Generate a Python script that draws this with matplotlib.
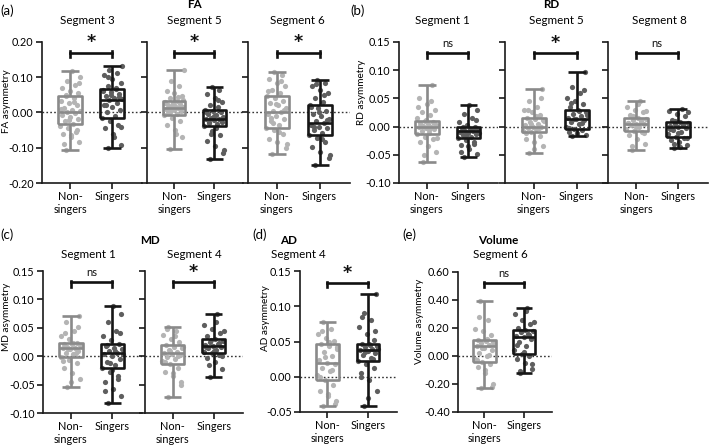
import numpy as np
import matplotlib.pyplot as plt

plt.rcParams['font.family'] = ['Lato', 'DejaVu Sans']
plt.rcParams['axes.unicode_minus'] = False

W, H = 709, 448
groups = ['Non-\nsingers', 'Singers']

# box stats are [min, q1, median, q3, max]
# (a) FA asymmetry
fa_seg3_ns = [-0.107, -0.085, -0.07, -0.062, -0.055, -0.045, -0.038, -0.032, -0.025, -0.018, -0.012, -0.006,
              -0.002, 0.0, 0.003, 0.008, 0.014, 0.02, 0.026, 0.033, 0.04, 0.047, 0.055, 0.062, 0.07, 0.078,
              0.09, 0.1, 0.117, -0.09, -0.05, -0.02, 0.01, 0.03, 0.05, 0.085, -0.065]
fa_seg3_s = [-0.101, -0.092, -0.06, -0.045, -0.035, -0.025, -0.016, -0.01, 0.0, 0.008, 0.015, 0.022, 0.028,
             0.035, 0.038, 0.042, 0.048, 0.053, 0.058, 0.063, 0.066, 0.075, 0.085, 0.095, 0.105, 0.112, 0.12,
             0.132, -0.07, 0.02, 0.045, 0.05, 0.06, 0.07, 0.1, -0.04]
fa_seg5_ns = [-0.104, -0.07, -0.05, -0.035, -0.025, -0.015, -0.008, -0.004, 0.0, 0.004, 0.007, 0.01, 0.013,
              0.014, 0.016, 0.018, 0.021, 0.024, 0.028, 0.031, 0.033, 0.04, 0.048, 0.055, 0.062, 0.075, 0.09,
              0.12, -0.06, -0.002, 0.012, 0.02, 0.026, 0.045, 0.002, 0.035]
fa_seg5_s = [-0.133, -0.115, -0.095, -0.08, -0.065, -0.052, -0.039, -0.034, -0.03, -0.026, -0.022, -0.019,
             -0.018, -0.015, -0.012, -0.008, -0.004, 0.0, 0.004, 0.008, 0.015, 0.022, 0.03, 0.04, 0.052, 0.065,
             0.072, -0.105, -0.045, -0.028, -0.02, -0.01, 0.002, 0.035, -0.06]
fa_seg6_ns = [-0.117, -0.1, -0.085, -0.075, -0.062, -0.05, -0.043, -0.035, -0.025, -0.018, -0.01, -0.004, 0.0,
              0.005, 0.012, 0.02, 0.028, 0.034, 0.04, 0.046, 0.055, 0.065, 0.075, 0.085, 0.095, 0.105, 0.115,
              -0.09, -0.055, -0.015, 0.008, 0.025, 0.06, 0.09, -0.03]
fa_seg6_s = [-0.15, -0.128, -0.112, -0.098, -0.085, -0.072, -0.063, -0.058, -0.05, -0.045, -0.04, -0.035, -0.03,
             -0.025, -0.018, -0.01, -0.004, 0.004, 0.012, 0.02, 0.03, 0.042, 0.055, 0.065, 0.075, 0.085, 0.093,
             -0.12, -0.075, -0.042, -0.02, 0.0, 0.015, 0.05, 0.08]
fa_seg3_box = [[-0.107, -0.032, 0.0, 0.047, 0.117], [-0.101, -0.016, 0.035, 0.066, 0.132]]
fa_seg5_box = [[-0.104, -0.008, 0.014, 0.033, 0.120], [-0.133, -0.039, -0.018, 0.008, 0.072]]
fa_seg6_box = [[-0.117, -0.043, 0.0, 0.046, 0.115], [-0.150, -0.063, -0.030, 0.020, 0.093]]
fa_sig = ['*', '*', '*']

# (b) RD asymmetry
rd_seg1_ns = [-0.062, -0.045, -0.035, -0.028, -0.022, -0.018, -0.014, -0.011, -0.008, -0.005, -0.003, -0.001,
              0.0, 0.001, 0.003, 0.005, 0.007, 0.009, 0.01, 0.015, 0.02, 0.025, 0.03, 0.04, 0.05, 0.073,
              -0.05, -0.02, -0.006, 0.002, 0.006, 0.012, 0.035, 0.045]
rd_seg1_s = [-0.054, -0.048, -0.04, -0.033, -0.028, -0.024, -0.02, -0.018, -0.015, -0.013, -0.011, -0.009,
             -0.008, -0.007, -0.005, -0.004, -0.002, -0.001, 0.003, 0.008, 0.015, 0.022, 0.03, 0.039,
             -0.045, -0.03, -0.016, -0.012, -0.006, 0.0, 0.012, -0.035]
rd_seg5_ns = [-0.046, -0.035, -0.028, -0.022, -0.016, -0.01, -0.007, -0.005, -0.003, -0.001, 0.0, 0.002, 0.005,
              0.008, 0.011, 0.014, 0.016, 0.02, 0.025, 0.03, 0.035, 0.045, 0.066,
              -0.04, -0.012, -0.002, 0.004, 0.01, 0.018, 0.03, 0.05]
rd_seg5_s = [-0.017, -0.015, -0.012, -0.009, -0.006, -0.004, 0.0, 0.004, 0.008, 0.011, 0.014, 0.016, 0.019,
             0.022, 0.025, 0.029, 0.035, 0.04, 0.045, 0.05, 0.06, 0.07, 0.096,
             -0.014, -0.002, 0.006, 0.013, 0.02, 0.027, 0.042, 0.065]
rd_seg8_ns = [-0.042, -0.03, -0.022, -0.015, -0.01, -0.007, -0.004, -0.001, 0.002, 0.004, 0.005, 0.007, 0.009,
              0.011, 0.013, 0.016, 0.02, 0.025, 0.03, 0.035, 0.045,
              -0.035, -0.012, 0.0, 0.006, 0.012, 0.018, 0.028, 0.04]
rd_seg8_s = [-0.038, -0.033, -0.028, -0.024, -0.021, -0.018, -0.014, -0.01, -0.006, -0.003, -0.001, 0.001,
             0.003, 0.005, 0.007, 0.008, 0.012, 0.018, 0.022, 0.027, 0.031,
             -0.03, -0.02, -0.012, -0.004, 0.004, 0.01, 0.025, -0.036]
rd_seg1_box = [[-0.062, -0.014, 0.0, 0.010, 0.073], [-0.054, -0.020, -0.008, -0.001, 0.039]]
rd_seg5_box = [[-0.046, -0.010, 0.0, 0.016, 0.066], [-0.017, -0.004, 0.014, 0.029, 0.096]]
rd_seg8_box = [[-0.042, -0.007, 0.005, 0.016, 0.045], [-0.038, -0.018, -0.001, 0.008, 0.031]]
rd_sig = ['ns', '*', 'ns']

# (c) MD asymmetry
md_seg1_ns = [-0.055, -0.04, -0.03, -0.02, -0.012, -0.006, -0.001, 0.003, 0.006, 0.009, 0.012, 0.014, 0.015,
              0.017, 0.019, 0.021, 0.022, 0.024, 0.03, 0.036, 0.045, 0.06, 0.071,
              -0.045, -0.008, 0.005, 0.013, 0.018, 0.023, 0.04, 0.052]
md_seg1_s = [-0.083, -0.07, -0.058, -0.045, -0.035, -0.027, -0.02, -0.015, -0.01, -0.005, 0.0, 0.003, 0.006,
             0.009, 0.012, 0.015, 0.018, 0.021, 0.028, 0.035, 0.045, 0.06, 0.075, 0.088,
             -0.062, -0.04, -0.012, 0.004, 0.01, 0.02, 0.04, -0.025]
md_seg4_ns = [-0.071, -0.045, -0.035, -0.027, -0.02, -0.013, -0.009, -0.005, -0.001, 0.002, 0.004, 0.006,
              0.008, 0.011, 0.014, 0.017, 0.019, 0.025, 0.03, 0.038, 0.045, 0.052,
              -0.05, -0.03, -0.01, 0.0, 0.01, 0.016, 0.035, 0.048]
md_seg4_s = [-0.036, -0.022, -0.01, -0.003, 0.002, 0.005, 0.008, 0.011, 0.014, 0.016, 0.018, 0.02, 0.022,
             0.025, 0.027, 0.03, 0.035, 0.04, 0.048, 0.055, 0.074,
             -0.015, 0.0, 0.01, 0.017, 0.024, 0.029, 0.045, 0.06]
md_seg1_box = [[-0.055, -0.001, 0.015, 0.024, 0.071], [-0.083, -0.020, 0.006, 0.021, 0.088]]
md_seg4_box = [[-0.071, -0.013, 0.006, 0.019, 0.052], [-0.036, 0.005, 0.018, 0.030, 0.074]]
md_sig = ['ns', '*']

# (d) AD asymmetry
ad_seg4_ns = [-0.041, -0.035, -0.028, -0.02, -0.012, -0.005, 0.002, 0.008, 0.013, 0.018, 0.02, 0.024, 0.03,
              0.035, 0.04, 0.044, 0.047, 0.051, 0.055, 0.06, 0.068, 0.077,
              -0.038, -0.025, 0.0, 0.01, 0.028, 0.042, 0.05, 0.065]
ad_seg4_s = [-0.042, -0.02, -0.005, 0.005, 0.012, 0.018, 0.023, 0.027, 0.031, 0.034, 0.036, 0.038, 0.04,
             0.042, 0.044, 0.046, 0.047, 0.052, 0.06, 0.07, 0.08, 0.09, 0.117,
             -0.03, 0.0, 0.025, 0.035, 0.039, 0.045, 0.085, 0.065]
ad_seg4_box = [[-0.041, -0.005, 0.020, 0.047, 0.077], [-0.042, 0.023, 0.038, 0.047, 0.117]]

# (e) Volume asymmetry
vol_seg6_ns = [-0.23, -0.2, -0.12, -0.08, -0.06, -0.04, -0.02, 0.0, 0.02, 0.04, 0.055, 0.07, 0.08, 0.09, 0.1,
               0.108, 0.114, 0.15, 0.18, 0.19, 0.26, 0.394,
               -0.22, -0.1, -0.03, 0.01, 0.06, 0.085, 0.12, 0.28]
vol_seg6_s = [-0.118, -0.09, -0.05, -0.02, 0.0, 0.015, 0.04, 0.07, 0.1, 0.12, 0.133, 0.14, 0.155, 0.17, 0.18,
              0.185, 0.2, 0.23, 0.26, 0.3, 0.346,
              -0.11, -0.06, 0.03, 0.08, 0.15, 0.175, 0.24, 0.32]
vol_seg6_box = [[-0.23, -0.04, 0.07, 0.114, 0.394], [-0.118, 0.015, 0.133, 0.185, 0.346]]

NS_PT, NS_BOX = '#b4b4b4', '#8a8a8a'
S_PT, S_BOX = '#5e5e5e', '#161616'


def px_axes(fig, left, top, right, bottom):
    return fig.add_axes([left / W, 1 - bottom / H, (right - left) / W, (bottom - top) / H])


def ftext(fig, x, y, s, **kw):
    fig.text(x / W, 1 - y / H, s, **kw)


def draw(ax, pts, boxes, ylim, yticks, bracket_y, sig, show_labels):
    ax.set_xlim(-0.67, 1.71)
    ax.set_ylim(*ylim)
    ax.axhline(0, color='#333333', ls=(0, (1.2, 1.6)), lw=1, zorder=1)
    for i, (vals, box, pc, bc) in enumerate(zip(pts, boxes, [NS_PT, S_PT], [NS_BOX, S_BOX])):
        vals = np.asarray(vals)
        jit = ((np.arange(len(vals)) * 0.618034 + 0.3) % 1 - 0.5) * 0.5
        ax.scatter(i + jit, vals, s=14, color=pc, lw=0, zorder=2, clip_on=False)
        st = dict(whislo=box[0], q1=box[1], med=box[2], q3=box[3], whishi=box[4], fliers=[])
        lp = dict(color=bc, lw=1.9, solid_capstyle='butt')
        ax.bxp([st], positions=[i], widths=0.56, capwidths=0.42, showfliers=False,
               boxprops=lp, whiskerprops=lp, capprops=lp, medianprops=lp,
               manage_ticks=False, zorder=3)
    ax.set_xticks([0, 1])
    ax.set_xticklabels(groups)
    ax.set_yticks(yticks)
    if show_labels:
        ax.set_yticklabels(['%.2f' % t for t in yticks])
    else:
        ax.set_yticklabels([])
    ax.tick_params(labelsize=7.8, length=4, width=1.2, color='#1a1a1a', pad=2)
    for side in ['top', 'right']:
        ax.spines[side].set_visible(False)
    for side in ['left', 'bottom']:
        ax.spines[side].set_linewidth(1.2)
        ax.spines[side].set_color('#1a1a1a')
    # significance bracket
    span = ylim[1] - ylim[0]
    d = span * 0.03
    ax.plot([0, 1], [bracket_y, bracket_y], color='#111111', lw=1.9, clip_on=False)
    for x in [0, 1]:
        ax.plot([x, x], [bracket_y - d, bracket_y + d * 0.35], color='#111111', lw=1.9, clip_on=False)
    if sig == '*':
        ax.text(0.5, bracket_y + span * 0.008, '*', ha='center', va='bottom', fontsize=12.5,
                fontweight='bold', family='DejaVu Sans', color='#111111')
    else:
        ax.text(0.5, bracket_y + span * 0.03, 'ns', ha='center', va='bottom', fontsize=8,
                color='#111111')


fig = plt.figure(figsize=(W / 100, H / 100), dpi=100)

fa_ylim, fa_ticks = (-0.20, 0.20), [-0.20, -0.10, 0.0, 0.10, 0.20]
rd_ylim, rd_ticks = (-0.10, 0.15), [-0.10, -0.05, 0.0, 0.05, 0.10, 0.15]
ad_ylim, ad_ticks = (-0.05, 0.15), [-0.05, 0.0, 0.05, 0.10, 0.15]
vol_ylim, vol_ticks = (-0.40, 0.60), [-0.40, -0.20, 0.0, 0.20, 0.40, 0.60]

subplots = [
    ((42, 42, 142, 183), [fa_seg3_ns, fa_seg3_s], fa_seg3_box, fa_ylim, fa_ticks, 0.17, fa_sig[0], True, 'Segment 3', 87),
    ((147, 42, 243, 183), [fa_seg5_ns, fa_seg5_s], fa_seg5_box, fa_ylim, fa_ticks, 0.17, fa_sig[1], False, 'Segment 5', 194),
    ((248, 42, 350, 183), [fa_seg6_ns, fa_seg6_s], fa_seg6_box, fa_ylim, fa_ticks, 0.17, fa_sig[2], False, 'Segment 6', 297),
    ((399, 42, 498, 183), [rd_seg1_ns, rd_seg1_s], rd_seg1_box, rd_ylim, rd_ticks, 0.13, rd_sig[0], True, 'Segment 1', 442),
    ((505, 42, 607, 183), [rd_seg5_ns, rd_seg5_s], rd_seg5_box, rd_ylim, rd_ticks, 0.13, rd_sig[1], False, 'Segment 5', 556),
    ((608, 42, 708, 183), [rd_seg8_ns, rd_seg8_s], rd_seg8_box, rd_ylim, rd_ticks, 0.13, rd_sig[2], False, 'Segment 8', 659),
    ((43, 271, 142, 413), [md_seg1_ns, md_seg1_s], md_seg1_box, rd_ylim, rd_ticks, 0.13, md_sig[0], True, 'Segment 1', 88),
    ((145, 271, 243, 413), [md_seg4_ns, md_seg4_s], md_seg4_box, rd_ylim, rd_ticks, 0.13, md_sig[1], False, 'Segment 4', 194),
    ((300, 271, 397, 412), [ad_seg4_ns, ad_seg4_s], ad_seg4_box, ad_ylim, ad_ticks, 0.133, '*', True, 'Segment 4', 298),
    ((458, 272, 552, 412), [vol_seg6_ns, vol_seg6_s], vol_seg6_box, vol_ylim, vol_ticks, 0.52, 'ns', True, 'Segment 6', 500),
]

for rect, pts, boxes, ylim, yticks, by, sig, show, title, tx in subplots:
    ax = px_axes(fig, *rect)
    draw(ax, pts, boxes, ylim, yticks, by, sig, show)
    ty = 21 if rect[1] < 100 else 254
    ftext(fig, tx, ty, title, ha='center', va='center', fontsize=8.4)

# metric titles
for name, x, y in [('FA', 195, 5), ('RD', 551, 5), ('MD', 150, 240), ('AD', 289, 240), ('Volume', 498, 240)]:
    ftext(fig, x, y, name, ha='center', va='center', fontsize=8.4, fontweight='bold')

# y labels
for name, x, y in [('FA asymmetry', 7, 101), ('RD asymmetry', 362, 92), ('MD asymmetry', 7, 317),
                   ('AD asymmetry', 265, 318), ('Volume asymmetry', 420, 321)]:
    ftext(fig, x, y, name, ha='center', va='center', rotation=90, fontsize=7.2)

# panel letters
for name, x, y in [('(a)', 0, 11), ('(b)', 350, 11), ('(c)', 0, 235), ('(d)', 252, 235), ('(e)', 402, 235)]:
    ftext(fig, x, y, name, ha='left', va='center', fontsize=9.5)

fig.savefig('out.png', dpi=100)
